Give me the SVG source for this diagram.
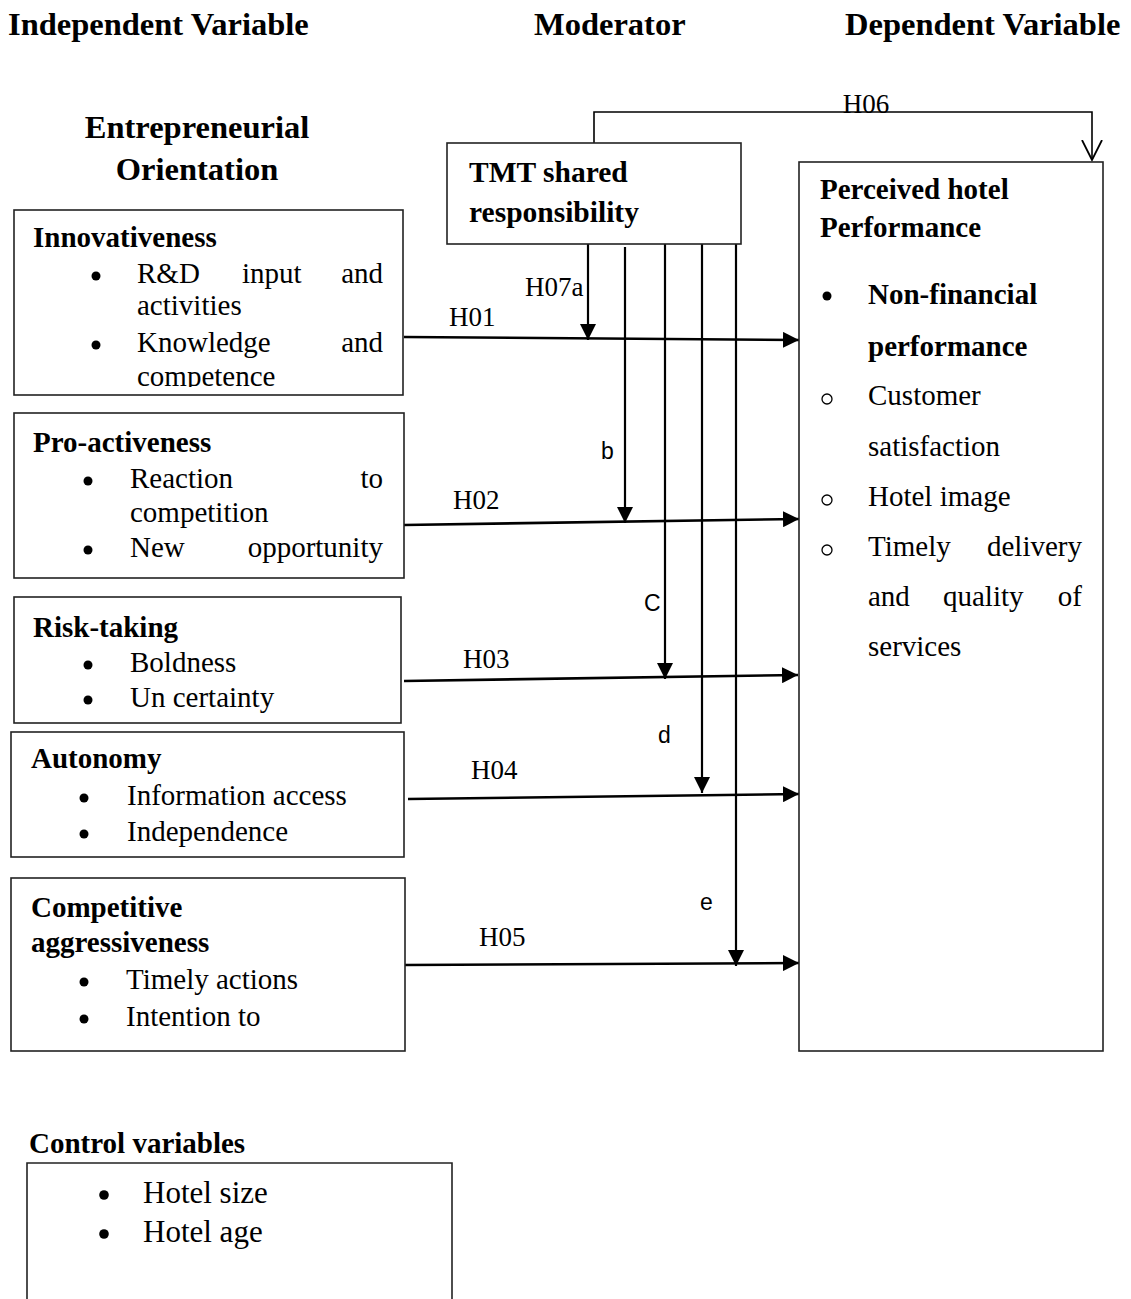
<svg xmlns="http://www.w3.org/2000/svg" width="1131" height="1299" viewBox="0 0 1131 1299">
<style>
.t{font-family:"Liberation Serif","Times New Roman",serif;font-size:29px;fill:#000}
.b{font-weight:bold}
.h{font-family:"Liberation Serif","Times New Roman",serif;font-size:32.5px;font-weight:bold;fill:#000}
.s{font-family:"Liberation Sans",Arial,sans-serif;font-size:23px;fill:#000}
.box{fill:#fff;stroke:#222;stroke-width:1.6}
.arr{stroke:#000;stroke-width:2.6;fill:none}
.v{stroke:#000;stroke-width:2.2;fill:none}
.thin{stroke:#000;stroke-width:1.6;fill:none}
.dot{fill:#000}
.ring{fill:none;stroke:#000;stroke-width:1.3}
</style>
<defs>
<marker id="ah" markerUnits="userSpaceOnUse" markerWidth="18" markerHeight="16" refX="16" refY="8" orient="auto">
<path d="M0,0 L16,8 L0,16 Z" fill="#000"/>
</marker>
<marker id="open" markerUnits="userSpaceOnUse" markerWidth="24" markerHeight="24" refX="20" refY="12" orient="auto">
<path d="M0,2 L20,12 L0,22" fill="none" stroke="#000" stroke-width="1.8"/>
</marker>
<clipPath id="c1"><rect x="14" y="211" width="389" height="176"/></clipPath>
</defs>
<rect width="1131" height="1299" fill="#fff"/>

<g id="headers">
<text class="h" x="8" y="35">Independent Variable</text>
<text class="h" x="534" y="35">Moderator</text>
<text class="h" x="845" y="35">Dependent Variable</text>
<text class="h" x="197" y="138" text-anchor="middle">Entrepreneurial</text>
<text class="h" x="197" y="180" text-anchor="middle">Orientation</text>
</g>

<g id="connectors">
<polyline class="thin" points="594,143 594,112 1092,112 1092,160" marker-end="url(#open)"/>
<line class="arr" x1="404" y1="337" x2="799" y2="340" marker-end="url(#ah)"/>
<line class="arr" x1="404" y1="525" x2="799" y2="519" marker-end="url(#ah)"/>
<line class="arr" x1="404" y1="681" x2="798" y2="675" marker-end="url(#ah)"/>
<line class="arr" x1="408" y1="799" x2="799" y2="794" marker-end="url(#ah)"/>
<line class="arr" x1="404" y1="965" x2="799" y2="963" marker-end="url(#ah)"/>
<line class="v" x1="588" y1="244" x2="588" y2="340" marker-end="url(#ah)"/>
<line class="v" x1="625" y1="247" x2="625" y2="523" marker-end="url(#ah)"/>
<line class="v" x1="665" y1="241" x2="665" y2="679" marker-end="url(#ah)"/>
<line class="v" x1="702" y1="243" x2="702" y2="793" marker-end="url(#ah)"/>
<line class="v" x1="736" y1="241" x2="736" y2="966" marker-end="url(#ah)"/>
<text class="t" x="866" y="113" text-anchor="middle" style="font-size:27px">H06</text>
<text class="t" x="449" y="326" style="font-size:27px">H01</text>
<text class="t" x="525" y="296" style="font-size:27px">H07a</text>
<text class="t" x="453" y="509" style="font-size:27px">H02</text>
<text class="t" x="463" y="668" style="font-size:27px">H03</text>
<text class="t" x="471" y="779" style="font-size:27px">H04</text>
<text class="t" x="479" y="946" style="font-size:27px">H05</text>
<text class="s" x="601" y="459">b</text>
<text class="s" x="644" y="611">C</text>
<text class="s" x="658" y="743">d</text>
<text class="s" x="700" y="910">e</text>
</g>

<g id="tmt">
<rect class="box" x="447" y="143" width="294" height="101"/>
<text class="h" x="469" y="182" style="font-size:29.5px">TMT shared</text>
<text class="h" x="469" y="222" style="font-size:29.5px">responsibility</text>
</g>

<g id="performance">
<rect class="box" x="799" y="162" width="304" height="889"/>
<text class="t b" x="820" y="199">Perceived hotel</text>
<text class="t b" x="820" y="237">Performance</text>
<circle class="dot" cx="827" cy="296" r="4.5"/>
<text class="t b" x="868" y="304">Non-financial</text>
<text class="t b" x="868" y="356">performance</text>
<circle class="ring" cx="827" cy="399" r="5"/>
<text class="t" x="868" y="405">Customer</text>
<text class="t" x="868" y="456">satisfaction</text>
<circle class="ring" cx="827" cy="500" r="5"/>
<text class="t" x="868" y="506">Hotel image</text>
<circle class="ring" cx="827" cy="550" r="5"/>
<text class="t" x="868" y="556">Timely</text>
<text class="t" x="1082" y="556" text-anchor="end">delivery</text>
<text class="t" x="868" y="606">and</text>
<text class="t" x="943" y="606">quality</text>
<text class="t" x="1082" y="606" text-anchor="end">of</text>
<text class="t" x="868" y="656">services</text>
</g>

<g id="innovativeness">
<rect class="box" x="14" y="210" width="389" height="185"/>
<text class="t b" x="33" y="247">Innovativeness</text>
<circle class="dot" cx="96" cy="276" r="4.5"/>
<text class="t" x="137" y="283">R&amp;D</text>
<text class="t" x="242" y="283">input</text>
<text class="t" x="383" y="283" text-anchor="end">and</text>
<text class="t" x="137" y="315">activities</text>
<circle class="dot" cx="96" cy="345" r="4.5"/>
<text class="t" x="137" y="352">Knowledge</text>
<text class="t" x="383" y="352" text-anchor="end">and</text>
<text class="t" x="137" y="386" clip-path="url(#c1)">competence</text>
</g>

<g id="proactiveness">
<rect class="box" x="14" y="413" width="390" height="165"/>
<text class="t b" x="33" y="452">Pro-activeness</text>
<circle class="dot" cx="88" cy="481" r="4.5"/>
<text class="t" x="130" y="488">Reaction</text>
<text class="t" x="383" y="488" text-anchor="end">to</text>
<text class="t" x="130" y="522">competition</text>
<circle class="dot" cx="88" cy="550" r="4.5"/>
<text class="t" x="130" y="557">New</text>
<text class="t" x="383" y="557" text-anchor="end">opportunity</text>
</g>

<g id="risktaking">
<rect class="box" x="14" y="597" width="387" height="126"/>
<text class="t b" x="33" y="637">Risk-taking</text>
<circle class="dot" cx="88" cy="665" r="4.5"/>
<text class="t" x="130" y="672">Boldness</text>
<circle class="dot" cx="88" cy="700" r="4.5"/>
<text class="t" x="130" y="707">Un certainty</text>
</g>

<g id="autonomy">
<rect class="box" x="11" y="732" width="393" height="125"/>
<text class="t b" x="31" y="768">Autonomy</text>
<circle class="dot" cx="84" cy="798" r="4.5"/>
<text class="t" x="127" y="805">Information access</text>
<circle class="dot" cx="84" cy="834" r="4.5"/>
<text class="t" x="127" y="841">Independence</text>
</g>

<g id="competitive">
<rect class="box" x="11" y="878" width="394" height="173"/>
<text class="t b" x="31" y="917">Competitive</text>
<text class="t b" x="31" y="952">aggressiveness</text>
<circle class="dot" cx="84" cy="982" r="4.5"/>
<text class="t" x="126" y="989">Timely actions</text>
<circle class="dot" cx="84" cy="1019" r="4.5"/>
<text class="t" x="126" y="1026">Intention to</text>
</g>

<g id="control">
<text class="t b" x="29" y="1153">Control variables</text>
<path class="box" d="M27,1302 L27,1163 L452,1163 L452,1302"/>
<circle class="dot" cx="104" cy="1195" r="4.8"/>
<text class="t" x="143" y="1203" style="font-size:31px">Hotel size</text>
<circle class="dot" cx="104" cy="1234" r="4.8"/>
<text class="t" x="143" y="1242" style="font-size:31px">Hotel age</text>
</g>
</svg>
